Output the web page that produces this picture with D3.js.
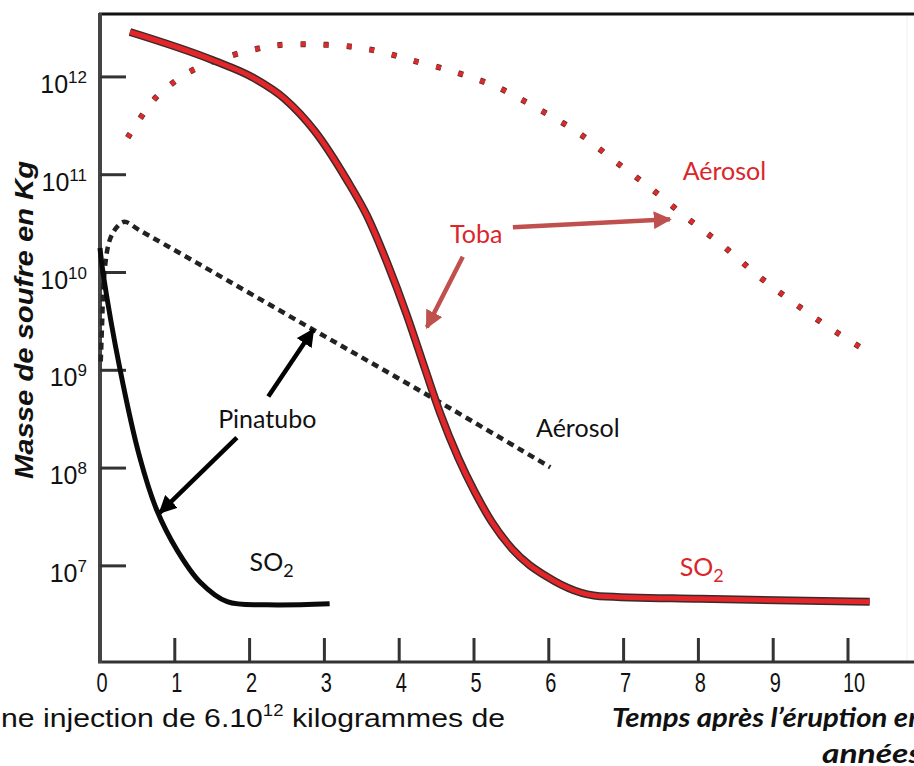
<!DOCTYPE html>
<html>
<head>
<meta charset="utf-8">
<script src="https://cdn.jsdelivr.net/npm/d3@7"></script>
<style>
  body { margin: 0; background: #fff; }
  svg { display: block; }
</style>
</head>
<body>
<svg id="chart" width="914" height="766"></svg>
<script>
// Toba SO2 (red solid)
const tobaSO2Years = [0.40, 1.51, 2.05, 2.47, 2.87, 3.30, 3.57, 3.84, 4.10, 4.34, 4.55, 4.79, 5.01, 5.24, 5.51, 5.98, 6.68, 8.02, 10.29];
const tobaSO2Mass = [2.88e12, 1.48e12, 9.8e11, 5.96e11, 2.8e11, 8.85e10, 3.8e10, 1.25e10, 3.7e9, 1.06e9, 3.6e8, 1.27e8, 5.7e7, 2.8e7, 1.49e7, 7.7e6, 4.9e6, 4.6e6, 4.3e6];

// Toba aerosol (red dotted)
const tobaAerYears = [0.37, 0.53, 0.71, 0.94, 1.19, 1.47, 1.76, 2.05, 2.34, 2.81, 3.34, 3.74, 4.17, 4.75, 5.32, 5.86, 6.39, 6.88, 7.35, 7.83, 8.32, 8.78, 9.26, 9.76, 10.29];
const tobaAerMass = [2.4e11, 3.7e11, 5.75e11, 8.3e11, 1.12e12, 1.41e12, 1.66e12, 1.9e12, 2.1e12, 2.15e12, 2.05e12, 1.82e12, 1.48e12, 1.12e12, 7.8e11, 4.7e11, 2.7e11, 1.38e11, 7.4e10, 3.7e10, 1.9e10, 9.5e9, 5.0e9, 2.7e9, 1.5e9];

// Pinatubo SO2 (black solid)
const pinaSO2Years = [0.0, 0.04, 0.27, 0.53, 0.76, 1.03, 1.34, 1.70, 2.23, 3.07];
const pinaSO2Mass = [1.78e10, 1.0e10, 1.0e9, 1.3e8, 3.7e7, 1.45e7, 6.8e6, 4.3e6, 4.0e6, 4.1e6];

// Pinatubo aerosol (black dashed)
const pinaAerYears = [0.01, 0.03, 0.05, 0.13, 0.24, 0.33, 0.53, 1.34, 2.85, 4.41, 6.02];
const pinaAerMass = [1.23e9, 3.3e9, 8.3e9, 2.15e10, 3.0e10, 3.3e10, 2.7e10, 1.2e10, 2.6e9, 5.4e8, 1.02e8];

const xTicks = [0, 1, 2, 3, 4, 5, 6, 7, 8, 9, 10];
const yTickExp = [7, 8, 9, 10, 11, 12];

const svg = d3.select("#chart");

const x = d3.scaleLinear().domain([0, 10]).range([100, 848]);
const y = d3.scaleLog().domain([1.04e6, 4.4e12]).range([662, 14]);

const line = d3.line()
    .x(d => x(d[0]))
    .y(d => y(d[1]))
    .curve(d3.curveCatmullRom.alpha(0.5));

// monotone version for the Toba SO2 curve (no overshoot on the flat tail)
const lineMono = d3.line()
    .x(d => x(d[0]))
    .y(d => y(d[1]))
    .curve(d3.curveMonotoneX);

const zip = (a, b) => a.map((v, i) => [v, b[i]]);

// frame
svg.append("line").attr("x1", 99).attr("x2", 914).attr("y1", 14).attr("y2", 14)
    .attr("stroke", "#111").attr("stroke-width", 3);
svg.append("line").attr("x1", 98).attr("x2", 914).attr("y1", 662).attr("y2", 662)
    .attr("stroke", "#333").attr("stroke-width", 3);
svg.append("line").attr("x1", 100).attr("x2", 100).attr("y1", 13).attr("y2", 663)
    .attr("stroke", "#444").attr("stroke-width", 4);
svg.append("line").attr("x1", 907).attr("x2", 907).attr("y1", 16).attr("y2", 660)
    .attr("stroke", "#eee").attr("stroke-width", 1);

// x ticks
svg.selectAll(".xtick").data(xTicks.slice(1)).enter().append("line")
    .attr("x1", d => x(d)).attr("x2", d => x(d))
    .attr("y1", 662).attr("y2", 638)
    .attr("stroke", "#333").attr("stroke-width", 3);

svg.selectAll(".xlab").data(xTicks).enter().append("text")
    .attr("transform", d => `translate(${x(d) + (d === 10 ? 6 : 2)},692) scale(0.74,1)`)
    .attr("text-anchor", "middle")
    .style("font-family", "Liberation Sans, Arial, sans-serif")
    .style("font-size", "27px")
    .attr("fill", "#111")
    .text(d => d);

// y ticks
svg.selectAll(".ytick").data(yTickExp).enter().append("line")
    .attr("x1", 100).attr("x2", 126)
    .attr("y1", d => y(Math.pow(10, d))).attr("y2", d => y(Math.pow(10, d)))
    .attr("stroke", "#333").attr("stroke-width", 3);

const ylab = svg.selectAll(".ylab").data(yTickExp).enter().append("text")
    .attr("x", 87)
    .attr("y", d => y(Math.pow(10, d)) + 16)
    .attr("text-anchor", "end")
    .style("font-family", "Liberation Sans, Arial, sans-serif")
    .style("font-size", "25px")
    .attr("fill", "#111");
ylab.append("tspan").text("10");
ylab.append("tspan").attr("dy", -10).style("font-size", "17px").text(d => d);

// y title
svg.append("text")
    .attr("transform", "translate(33,320) rotate(-90)")
    .attr("text-anchor", "middle")
    .attr("textLength", 318)
    .attr("lengthAdjust", "spacingAndGlyphs")
    .style("font-family", "Liberation Sans, Arial, sans-serif")
    .style("font-size", "26px")
    .style("font-weight", "bold")
    .style("font-style", "italic")
    .attr("fill", "#111")
    .text("Masse de soufre en Kg");

// Toba aerosol dotted red
const tobaAer = zip(tobaAerYears, tobaAerMass);
svg.append("path").datum(tobaAer).attr("d", line)
    .attr("fill", "none").attr("stroke", "#4a3030").attr("stroke-width", 6)
    .attr("stroke-dasharray", "5,18");
svg.append("path").datum(tobaAer).attr("d", line)
    .attr("fill", "none").attr("stroke", "#dc2a2a").attr("stroke-width", 4.5)
    .attr("stroke-dasharray", "5,18");

// Pinatubo aerosol dashed black
svg.append("path").datum(zip(pinaAerYears, pinaAerMass)).attr("d", line)
    .attr("fill", "none").attr("stroke", "#222").attr("stroke-width", 4.5)
    .attr("stroke-dasharray", "7,5");

// Pinatubo SO2 black
svg.append("path").datum(zip(pinaSO2Years, pinaSO2Mass)).attr("d", line)
    .attr("fill", "none").attr("stroke", "#0a0a0a").attr("stroke-width", 5)
    .attr("stroke-linejoin", "round");

// Toba SO2 red with dark outline
const tobaSO2 = zip(tobaSO2Years, tobaSO2Mass);
svg.append("path").datum(tobaSO2).attr("d", lineMono)
    .attr("fill", "none").attr("stroke", "#3a2a2a").attr("stroke-width", 8);
svg.append("path").datum(tobaSO2).attr("d", lineMono)
    .attr("fill", "none").attr("stroke", "#e3262a").attr("stroke-width", 5);

// arrows
const defs = svg.append("defs");
function marker(id, color) {
    defs.append("marker").attr("id", id)
        .attr("viewBox", "0 0 10 10").attr("refX", 9).attr("refY", 5)
        .attr("markerWidth", 4).attr("markerHeight", 4)
        .attr("markerUnits", "strokeWidth")
        .attr("orient", "auto")
        .append("path").attr("d", "M0,0 L10,5 L0,10 z").attr("fill", color);
}
marker("redHead", "#c0504d");
marker("blackHead", "#000");

const arrows = [
    { from: [5.52, 2.9e10], to: [7.62, 3.5e10], color: "#c0504d", head: "redHead" },
    { from: [4.85, 1.45e10], to: [4.37, 2.75e9], color: "#c0504d", head: "redHead" },
    { from: [2.25, 5.4e8], to: [2.85, 2.6e9], color: "#000", head: "blackHead" },
    { from: [1.83, 2.05e8], to: [0.80, 3.5e7], color: "#000", head: "blackHead" }
];
svg.selectAll(".arrow").data(arrows).enter().append("line")
    .attr("x1", d => x(d.from[0])).attr("y1", d => y(d.from[1]))
    .attr("x2", d => x(d.to[0])).attr("y2", d => y(d.to[1]))
    .attr("stroke", d => d.color).attr("stroke-width", 4.5)
    .attr("marker-end", d => `url(#${d.head})`);

// labels
const labelFont = "Lato, 'Open Sans', sans-serif";
function label(t, v, txt, color, sub) {
    const el = svg.append("text")
        .attr("x", x(t)).attr("y", y(v))
        .style("font-family", labelFont)
        .style("font-size", "25px")
        .attr("fill", color);
    el.append("tspan").text(txt);
    if (sub) el.append("tspan").attr("dy", 6).style("font-size", "18px").text(sub);
}
label(4.68, 2.0e10, "Toba", "#d9262b");
label(7.79, 8.9e10, "Aérosol", "#d9262b");
label(5.83, 2.1e8, "Aérosol", "#111");
label(1.58, 2.6e8, "Pinatubo", "#111");
label(2.0, 8.8e6, "SO", "#111", "2");
label(7.75, 7.8e6, "SO", "#d9262b", "2");

// bottom caption fragments
const cap = svg.append("text")
    .attr("x", 1).attr("y", 727)
    .attr("textLength", 504)
    .attr("lengthAdjust", "spacingAndGlyphs")
    .style("font-family", "Liberation Sans, Arial, sans-serif")
    .style("font-size", "26px")
    .attr("fill", "#111");
cap.append("tspan").text("ne injection de 6.10");
cap.append("tspan").attr("dy", -11).style("font-size", "16px").text("12");
cap.append("tspan").attr("dy", 11).text(" kilogrammes de");

svg.append("text")
    .attr("x", 612).attr("y", 727)
    .attr("textLength", 312)
    .attr("lengthAdjust", "spacingAndGlyphs")
    .style("font-family", labelFont)
    .style("font-size", "26px")
    .style("font-weight", "bold")
    .style("font-style", "italic")
    .attr("fill", "#111")
    .text("Temps après l’éruption en");
svg.append("text")
    .attr("x", 822).attr("y", 763)
    .attr("textLength", 100)
    .attr("lengthAdjust", "spacingAndGlyphs")
    .style("font-family", labelFont)
    .style("font-size", "26px")
    .style("font-weight", "bold")
    .style("font-style", "italic")
    .attr("fill", "#111")
    .text("années");
</script>
</body>
</html>
